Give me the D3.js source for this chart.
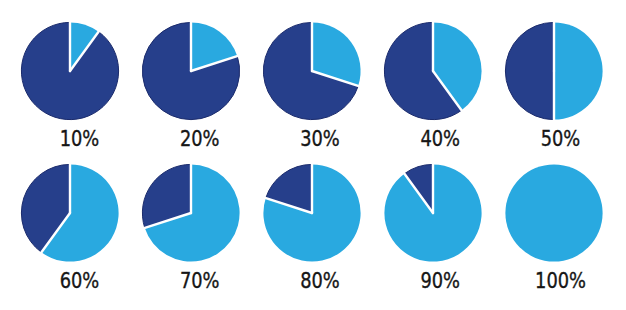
<!DOCTYPE html>
<html>
<head>
<meta charset="utf-8">
<script src="https://cdn.jsdelivr.net/npm/d3@7"></script>
<style>
  html, body { margin: 0; padding: 0; background: #fff; }
</style>
</head>
<body>
<div id="chart"></div>
<script>
// percentages shown, one pie each
const percents = [10, 20, 30, 40, 50, 60, 70, 80, 90, 100];
const labels = ['10%', '20%', '30%', '40%', '50%', '60%', '70%', '80%', '90%', '100%'];
const colLight = '#29a9e0';
const colDark = '#263f8b';
const colRim = '#1b2b6c';

const width = 626, height = 310;
const cols = 5;
const radius = 48.6;

const svg = d3.select('#chart')
  .append('svg')
  .attr('width', width)
  .attr('height', height);

// grid positions
const x = d3.scaleLinear().domain([0, cols - 1]).range([70, 554]);
const xLabel = d3.scaleLinear().domain([0, cols - 1]).range([79.5, 560.5]);
const y = d3.scaleLinear().domain([0, 1]).range([71, 213]);

const pie = d3.pie().sort(null).value(d => d.v);
const arc = d3.arc().innerRadius(0).outerRadius(radius);

percents.forEach((p, i) => {
  const col = i % cols, row = Math.floor(i / cols);
  const g = svg.append('g')
    .attr('transform', `translate(${x(col)},${y(row)})`);

  const slices = [
    { v: p, c: colLight },
    { v: 100 - p, c: colDark }
  ].filter(d => d.v > 0);
  const arcs = pie(slices);

  g.selectAll('path.slice')
    .data(arcs)
    .enter().append('path')
    .attr('class', 'slice')
    .attr('d', arc)
    .attr('fill', d => d.data.c)
    .attr('stroke', d => d.data.c === colDark ? colRim : 'none')
    .attr('stroke-width', 1);

  // white separators along the radii
  if (arcs.length > 1) {
    const angles = [arcs[0].startAngle, arcs[0].endAngle];
    g.selectAll('line.sep')
      .data(angles)
      .enter().append('line')
      .attr('class', 'sep')
      .attr('x1', 0).attr('y1', 0)
      .attr('x2', a => (radius + 1.5) * Math.sin(a))
      .attr('y2', a => -(radius + 1.5) * Math.cos(a))
      .attr('stroke', '#fff')
      .attr('stroke-width', 2.4)
      .attr('stroke-linecap', 'round');
  }

  svg.append('text')
    .attr('transform', `translate(${xLabel(col)},${y(row) + 75}) scale(0.9,1)`)
    .attr('text-anchor', 'middle')
    .style('font-family', '"DejaVu Sans Condensed", "DejaVu Sans", sans-serif')
    .style('font-size', '22px')
    .style('fill', '#161616')
    .style('stroke', '#161616')
    .style('stroke-width', 0.35)
    .text(labels[i]);
});
</script>
</body>
</html>
